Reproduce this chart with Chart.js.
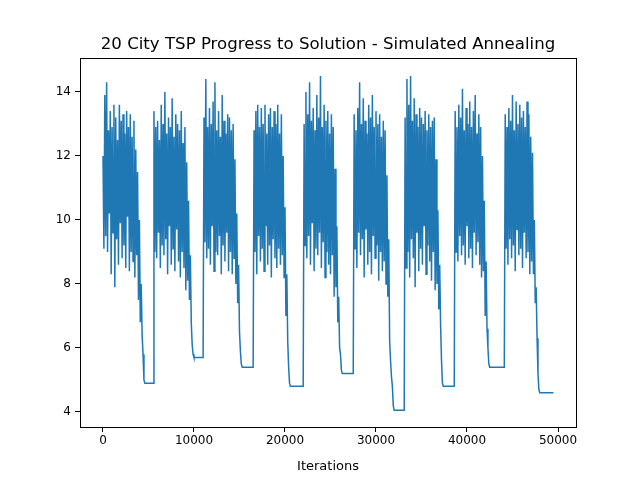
<!DOCTYPE html>
<html><head><meta charset="utf-8">
<script src="https://cdn.jsdelivr.net/npm/chart.js@4"></script>
<style>html,body{margin:0;padding:0;background:#fff}</style>
</head><body>
<div style="width:640px;height:480px"><canvas id="c" width="640" height="480"></canvas></div>
<script>
const STEP = 100;
const cycleStarts = [0, 5600, 11100, 16600, 22100, 27600, 33200, 38700, 44200];
const cycleEnds   = [5500, 11000, 16500, 22000, 27500, 33100, 38600, 44100, 49500];
const noise1 = [12.0,9.1,13.9,9.5,14.3,9.0,12.8,10.2,13.4,8.3,12.9,9.6,13.6,7.9,13.2,9.4,12.5,8.6,13.6,9.9,13.1,8.8,13.3,9.2,12.7,8.5,13.4,10.1,12.9,8.4,13.3,9.0,12.6,8.7,13.1,8.2,12.2,8.9];
const noise2 = [13.4,9.0,12.9,8.8,13.1,9.6,12.5,8.5,13.6,9.2,13.0,8.9,14.0,9.4,12.7,8.3,13.2,9.8,12.9,8.6,13.8,9.1,12.6,8.4,13.3,9.7,13.0,8.7,12.8,8.2,13.4,9.0,12.4,8.5,12.9,7.8];
const noise3 = [13.2,9.3,14.4,8.8,12.9,9.1,13.5,8.6,13.0,9.8,13.7,8.4,14.3,9.0,12.8,8.9,13.4,9.5,12.6,8.3,13.9,9.2,13.1,8.7,12.7,9.6,13.3,8.4,13.2,9.0,12.8,8.3,13.0,8.8];
const noise4 = [12.8,9.0,13.4,8.3,13.6,9.5,12.9,8.7,13.5,9.1,13.0,8.4,13.6,9.8,12.7,8.6,13.3,9.2,13.5,8.2,12.9,9.4,13.4,8.8,13.0,8.5,13.6,9.1,12.7,8.6,13.3,8.9];
const noise5 = [13.0,9.2,14.0,8.8,13.3,9.5,14.3,8.6,13.1,9.9,13.5,8.4,12.8,9.1,13.9,8.9,13.2,9.6,14.5,8.5,12.9,9.3,13.6,8.2,13.1,9.0,13.4,8.6,12.7,8.3,13.3,8.9,12.9,7.6];
const noise6 = [13.3,9.1,12.8,8.5,13.5,9.6,14.3,8.9,13.0,9.4,13.8,8.2,13.1,9.7,12.7,8.6,13.6,9.0,13.2,8.3,13.9,9.5,12.9,8.8,13.4,9.2,13.0,8.1,13.3,9.0,12.6,8.4,13.1,8.7,12.8,8.0];
const noise7 = [13.2,8.5,14.4,9.0,13.6,8.2,14.5,9.4,13.1,8.8,13.8,7.9,13.3,9.6,12.9,8.4,13.5,9.1,13.2,8.6,13.0,9.8,13.4,8.3,12.8,9.2,13.3,8.7,12.9,8.1,13.1,9.0,13.2,7.8];
const noise8 = [13.4,9.0,12.9,8.7,13.6,9.5,13.2,8.9,14.1,9.2,12.8,8.6,13.5,9.8,13.0,8.8,13.7,9.1,12.9,8.5,13.4,9.6,13.9,8.9,12.7,9.3,13.3,8.6,12.9,8.2];
const noise9 = [13.3,9.1,12.9,8.6,13.5,9.4,13.1,8.8,13.9,9.2,12.8,8.4,13.7,9.7,13.0,8.9,13.6,9.1,13.2,8.5,13.4,9.6,12.9,8.8,13.7,9.0,13.3,8.3,12.6,8.7];
const decay1 = [11.5,7.5,10.0,6.8,8.0,6.4,5.8,5.0,4.9];
const decay2 = [11.8,8.1,10.6,7.5,8.9,6.8,6.1,5.8,5.7];
const decay3 = [11.9,8.0,10.2,7.4,8.6,6.5,5.9,5.5,5.4];
const decay4 = [12.0,8.2,10.4,7.0,8.3,6.2,5.4,4.9,4.8];
const decay5 = [11.6,7.9,9.8,6.8,7.6,6.0,5.8,5.3,5.2];
const decay6 = [11.4,7.6,9.4,6.2,5.6,5.1,4.8,4.2,4.05];
const decay7 = [11.9,8.0,10.3,7.2,8.6,6.7,5.6,4.9,4.8];
const decay8 = [12.0,8.4,10.6,7.0,8.7,6.6,6.0,5.5,5.4];
const decay9 = [12.1,8.3,10.0,7.4,7.9,6.3,5.2,4.7,4.6];
const plateaus = [4.9, 5.7, 5.4, 4.8, 5.2, 4.05, 4.8, 5.4, 4.6];
const noises = [noise1,noise2,noise3,noise4,noise5,noise6,noise7,noise8,noise9];
const decays = [decay1,decay2,decay3,decay4,decay5,decay6,decay7,decay8,decay9];
const xTicks = [0,10000,20000,30000,40000,50000];
const yTicks = [4,6,8,10,12,14];

const pts = [];
for (let c = 0; c < 9; c++) {
  let x = cycleStarts[c];
  for (const v of noises[c]) { pts.push({x, y: v}); x += STEP; }
  for (const v of decays[c]) { pts.push({x, y: v}); x += STEP; }
  pts.push({x: cycleEnds[c], y: plateaus[c]});
}

const frame = {
  id: 'frame',
  afterDraw(ch) {
    const a = ch.chartArea, g = ch.ctx;
    g.save(); g.strokeStyle = '#000'; g.lineWidth = 1;
    g.strokeRect(a.left + 0.5, a.top + 0.5, a.right - a.left, a.bottom - a.top);
    g.fillStyle = '#000'; g.font = '16.6px "DejaVu Sans"'; g.textAlign = 'center'; g.textBaseline = 'alphabetic';
    g.fillText('20 City TSP Progress to Solution - Simulated Annealing', (a.left + a.right) / 2, 49);
    g.restore();
  }
};

new Chart(document.getElementById('c'), {
  type: 'line',
  data: { datasets: [{ data: pts, borderColor: '#1f77b4', borderWidth: 1.5, pointRadius: 0, tension: 0, fill: false }] },
  options: {
    responsive: false, animation: false, parsing: true,
    layout: { padding: { top: 58, right: 64, left: 0, bottom: 0 } },
    plugins: { legend: { display: false }, tooltip: { enabled: false } },
    scales: {
      x: {
        type: 'linear', min: -2527, max: 51978,
        afterBuildTicks: s => { s.ticks = xTicks.map(v => ({value: v})); },
        afterFit: s => { s.height = 53; },
        grid: { drawOnChartArea: false, tickLength: 5, color: '#000' },
        border: { display: false },
        ticks: { color: '#000', font: { family: 'DejaVu Sans', size: 12 }, maxRotation: 0, padding: 2, callback: v => String(v) },
        title: { display: true, text: 'Iterations', color: '#000', font: { family: 'DejaVu Sans', size: 13 }, padding: { top: 0, bottom: 6 } }
      },
      y: {
        type: 'linear', min: 3.53, max: 15.06,
        afterBuildTicks: s => { s.ticks = yTicks.map(v => ({value: v})); },
        afterFit: s => { s.width = 80; },
        grid: { drawOnChartArea: false, tickLength: 5, color: '#000' },
        border: { display: false },
        ticks: { color: '#000', font: { family: 'DejaVu Sans', size: 12 }, padding: 4 }
      }
    }
  },
  plugins: [frame]
});
</script>
</body></html>
